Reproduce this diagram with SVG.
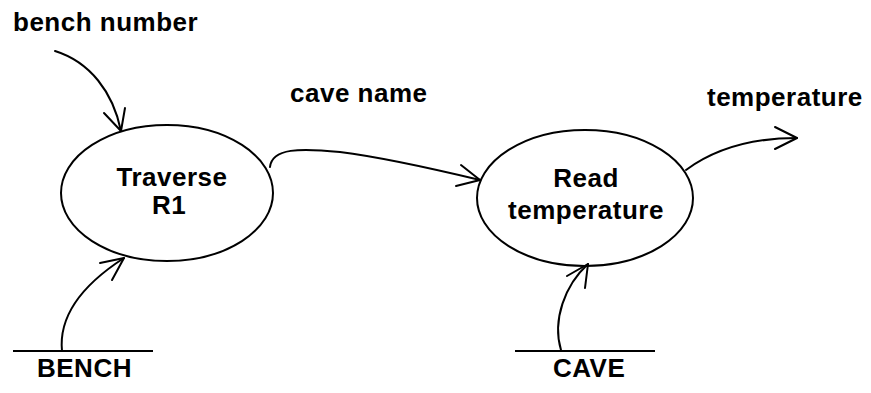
<svg xmlns="http://www.w3.org/2000/svg" width="871" height="393" viewBox="0 0 871 393">
<style>
.n{fill:none;stroke:#000;stroke-width:2}
.c{fill:none;stroke:#000;stroke-width:2;stroke-linecap:round;stroke-linejoin:round}
text{font-family:"Liberation Sans",Arial,sans-serif;font-weight:bold;font-size:26px;letter-spacing:0.5px;fill:#000}
.m{text-anchor:middle}
</style>
<rect width="871" height="393" fill="#fff"/>
<g id="traverse">
<ellipse class="n" cx="167" cy="193" rx="106" ry="68"/>
<text class="m" x="172" y="186">Traverse</text>
<text class="m" x="169" y="214">R1</text>
</g>
<g id="read">
<ellipse class="n" cx="585" cy="198" rx="108" ry="68"/>
<text class="m" x="586" y="187">Read</text>
<text class="m" x="586" y="219">temperature</text>
</g>
<g id="bench">
<line class="n" x1="13" y1="351" x2="153" y2="351"/>
<text x="37" y="377">BENCH</text>
</g>
<g id="cave">
<line class="n" x1="515" y1="351" x2="655" y2="351"/>
<text x="553" y="377">CAVE</text>
</g>
<g id="labels">
<text x="13" y="31">bench number</text>
<text x="290" y="102">cave name</text>
<text x="707" y="106">temperature</text>
</g>
<g id="connectors">
<path class="c" d="M55,51 C90,62 113,92 121,131"/>
<path class="c" d="M104,113 L121,131 L125,108"/>
<path class="c" d="M270,167 C272,148 300,148 340,152 C380,157 430,168 480,180"/>
<path class="c" d="M461,165 L480,180 L456,186"/>
<path class="c" d="M686,170 C720,145 760,138 797,138"/>
<path class="c" d="M775,127 L797,138 L775,149"/>
<path class="c" d="M62,351 C58,310 90,280 124,258"/>
<path class="c" d="M100,263 L124,258 L112,280"/>
<path class="c" d="M561,350 C552,320 565,285 588,264"/>
<path class="c" d="M567,276 L588,264 L585,288"/>
</g>
</svg>
